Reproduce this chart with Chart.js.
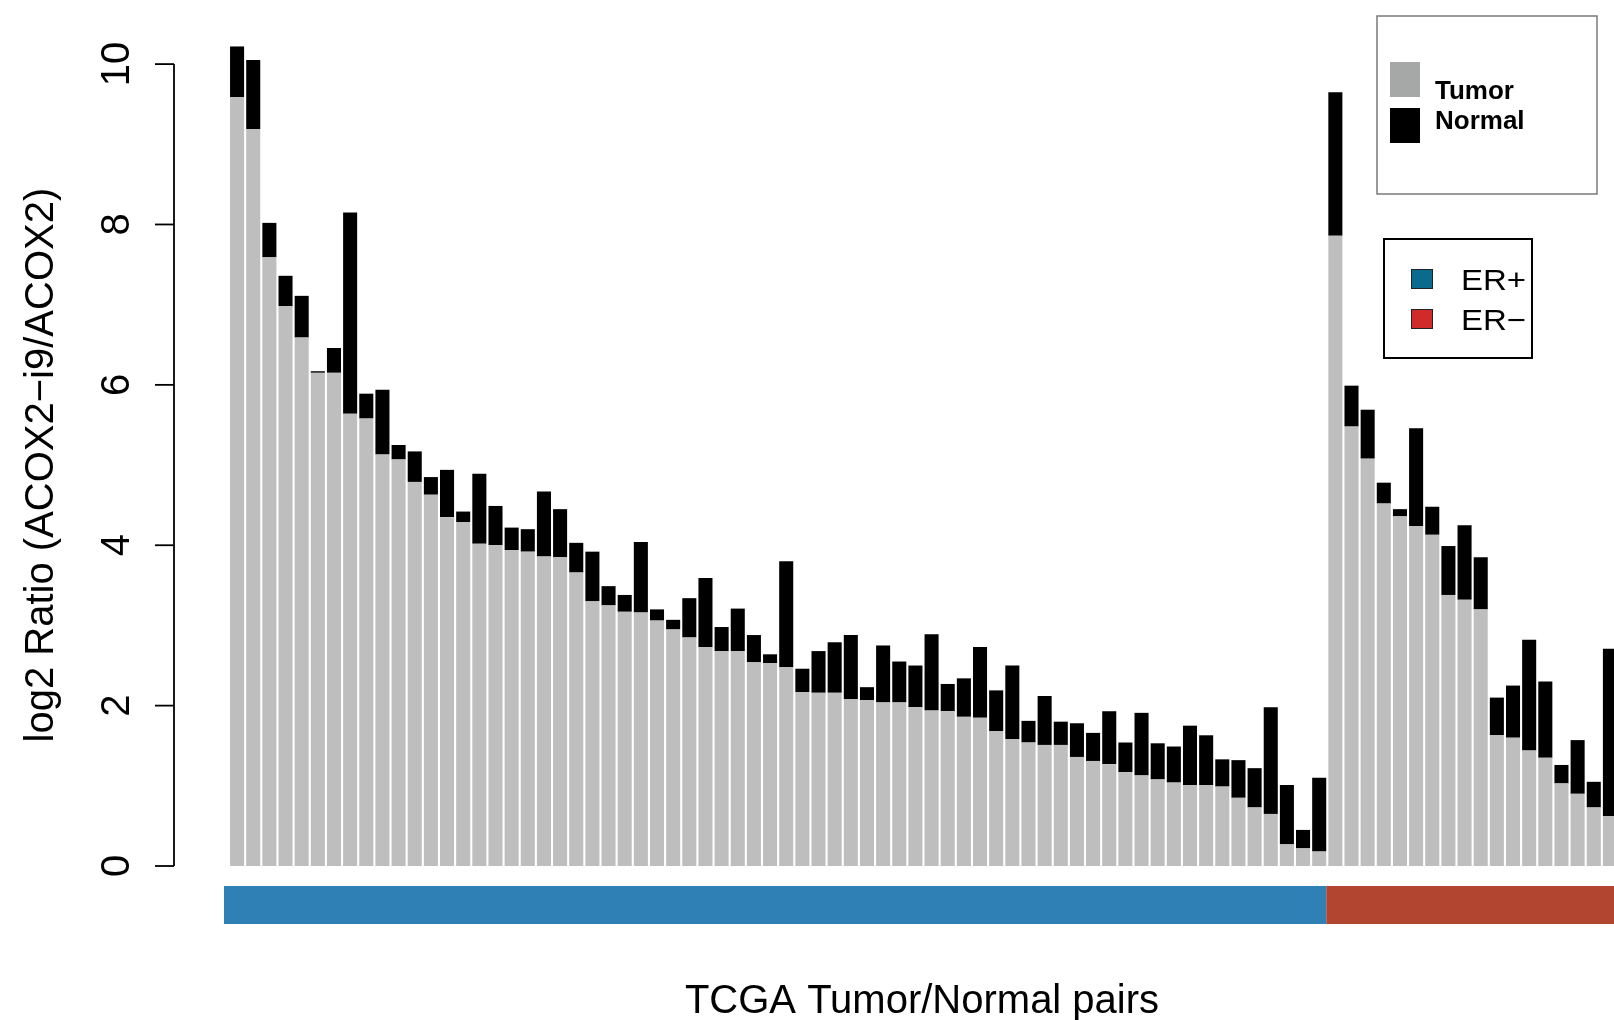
<!DOCTYPE html>
<html>
<head>
<meta charset="utf-8">
<script src="https://cdn.jsdelivr.net/npm/chart.js@4.4.1/dist/chart.umd.min.js"></script>
<style>
  html, body { margin: 0; padding: 0; background: #fff; overflow: hidden; }
  #wrap { position: relative; width: 1620px; height: 1020px; }
</style>
</head>
<body>
<div id="wrap"><canvas id="c" width="1620" height="1020"></canvas></div>
<script>
/* ── Datos: log2 ratio por par Tumor/Normal (segmentos apilados) ── */
const tumor = [
  9.59, 9.19, 7.59, 6.98, 6.59, 6.15, 6.15, 5.64, 5.58, 5.13,
  5.07, 4.79, 4.63, 4.35, 4.29, 4.02, 4.00, 3.94, 3.92, 3.86,
  3.85, 3.66, 3.30, 3.25, 3.17, 3.16, 3.06, 2.95, 2.85, 2.73,
  2.68, 2.68, 2.54, 2.53, 2.48, 2.17, 2.16, 2.16, 2.08, 2.07,
  2.04, 2.04, 1.98, 1.94, 1.93, 1.86, 1.85, 1.68, 1.58, 1.54,
  1.51, 1.51, 1.36, 1.31, 1.27, 1.17, 1.13, 1.08, 1.04, 1.01,
  1.01, 0.99, 0.85, 0.73, 0.65, 0.27, 0.22, 0.18,
  7.86, 5.48, 5.08, 4.52, 4.36, 4.24, 4.13, 3.38, 3.32, 3.20,
  1.63, 1.60, 1.44, 1.35, 1.03, 0.90, 0.73, 0.62
];
const normal = [
  0.63, 0.86, 0.43, 0.38, 0.52, 0.02, 0.31, 2.51, 0.31, 0.81,
  0.18, 0.38, 0.22, 0.59, 0.13, 0.87, 0.49, 0.28, 0.28, 0.81,
  0.60, 0.37, 0.62, 0.24, 0.21, 0.88, 0.14, 0.12, 0.49, 0.86,
  0.30, 0.53, 0.34, 0.11, 1.32, 0.29, 0.52, 0.63, 0.80, 0.16,
  0.71, 0.51, 0.52, 0.95, 0.34, 0.48, 0.88, 0.51, 0.92, 0.27,
  0.61, 0.29, 0.42, 0.35, 0.66, 0.37, 0.78, 0.45, 0.45, 0.74,
  0.62, 0.34, 0.47, 0.49, 1.33, 0.74, 0.23, 0.92,
  1.79, 0.51, 0.61, 0.26, 0.09, 1.22, 0.35, 0.61, 0.93, 0.65,
  0.47, 0.65, 1.38, 0.95, 0.23, 0.67, 0.32, 2.09
];
const erGroups = ['ER+', 'ER−'];
const erCounts = [68, 18];
const yTicks = [0, 2, 4, 6, 8, 10];
const labels = tumor.map((_, i) => 'Par ' + (i + 1));

/* ── Estilos ── */
const FONT = '"Liberation Sans", Arial, Helvetica, sans-serif';
const stripColors = ['#2f80b5', '#b14530'];
const swatchColors = ['#0b6b8f', '#d02a2a'];

/* ── Ejes, franja ER y leyendas ── */
const decor = {
  id: 'decor',
  afterDraw(chart) {
    const { ctx, chartArea: a } = chart;
    const y = chart.scales.y;
    const pitch = (a.right - a.left) / labels.length;
    ctx.save();

    // franja ER+ / ER−
    let start = 0;
    erCounts.forEach((n, g) => {
      const x0 = g === 0 ? a.left - 5 : a.left + start * pitch - 1;
      const x1 = a.left + (start + n) * pitch - 1;
      ctx.fillStyle = stripColors[g];
      ctx.fillRect(x0, 886, x1 - x0, 38);
      start += n;
    });

    // eje Y estilo R
    const ax = a.left - 55;
    ctx.strokeStyle = '#000';
    ctx.lineWidth = 1.8;
    ctx.beginPath();
    ctx.moveTo(ax, y.getPixelForValue(yTicks[0]));
    ctx.lineTo(ax, y.getPixelForValue(yTicks[yTicks.length - 1]));
    ctx.stroke();
    ctx.fillStyle = '#000';
    ctx.font = `40px ${FONT}`;
    ctx.textAlign = 'center';
    ctx.textBaseline = 'alphabetic';
    yTicks.forEach(t => {
      const py = y.getPixelForValue(t);
      ctx.beginPath();
      ctx.moveTo(ax - 19, py);
      ctx.lineTo(ax, py);
      ctx.stroke();
      ctx.save();
      ctx.translate(129, py);
      ctx.rotate(-Math.PI / 2);
      ctx.fillText(String(t), 0, 0);
      ctx.restore();
    });

    // títulos
    ctx.save();
    ctx.translate(53, (y.getPixelForValue(0) + y.getPixelForValue(10)) / 2);
    ctx.rotate(-Math.PI / 2);
    ctx.fillText('log2 Ratio (ACOX2−i9/ACOX2)', 0, 0);
    ctx.restore();
    ctx.fillText('TCGA Tumor/Normal pairs', 922, 1013);

    // leyenda Tumor / Normal
    ctx.strokeStyle = '#7a7a7a';
    ctx.lineWidth = 1.5;
    ctx.strokeRect(1377, 16, 220, 178);
    ctx.fillStyle = '#a6a8a7';
    ctx.fillRect(1390, 62, 30, 35);
    ctx.fillStyle = '#000';
    ctx.fillRect(1390, 108, 30, 35);
    ctx.font = `bold 26px ${FONT}`;
    ctx.textAlign = 'left';
    ctx.fillText('Tumor', 1435, 99);
    ctx.fillText('Normal', 1435, 129);

    // leyenda ER
    ctx.strokeStyle = '#000';
    ctx.lineWidth = 2;
    ctx.strokeRect(1384, 239, 148, 119);
    ctx.lineWidth = 1;
    ctx.font = `30px ${FONT}`;
    erGroups.forEach((g, i) => {
      const top = 269 + i * 40;
      ctx.fillStyle = swatchColors[i];
      ctx.fillRect(1411, top, 22, 20);
      ctx.strokeStyle = '#222';
      ctx.strokeRect(1411.5, top + 0.5, 21, 19);
      ctx.fillStyle = '#000';
      ctx.save();
      ctx.translate(1461, top + 21);
      ctx.scale(1.1, 1);
      ctx.fillText(g, 0, 0);
      ctx.restore();
    });

    ctx.restore();
  }
};

new Chart(document.getElementById('c').getContext('2d'), {
  type: 'bar',
  data: {
    labels,
    datasets: [
      { label: 'Tumor', data: tumor, backgroundColor: '#bebebe', stack: 'par' },
      { label: 'Normal', data: normal, backgroundColor: '#000000', stack: 'par' },
    ]
  },
  options: {
    responsive: false,
    animation: false,
    layout: { padding: { left: 229, right: 2, top: 24, bottom: 154 } },
    datasets: { bar: { categoryPercentage: 1, barPercentage: 0.87 } },
    plugins: { legend: { display: false }, tooltip: { enabled: false } },
    scales: {
      x: { display: false, stacked: true },
      y: { display: false, stacked: true, min: 0, max: 10.5 },
    },
  },
  plugins: [decor],
});
</script>
</body>
</html>
